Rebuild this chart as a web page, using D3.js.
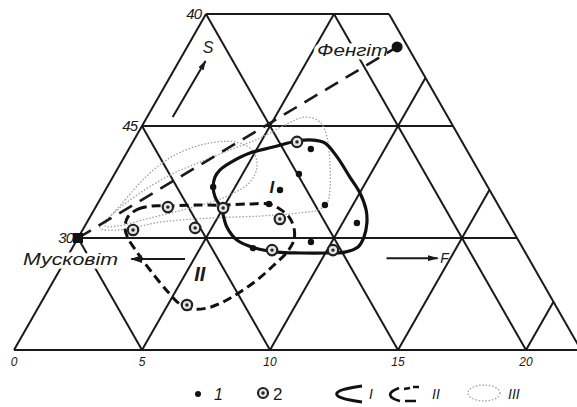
<!DOCTYPE html>
<html>
<head>
<meta charset="utf-8">
<script src="https://cdn.jsdelivr.net/npm/d3@7"></script>
<style>
  body { margin: 0; background: #fff; }
  svg { display: block; }
  text { font-family: "Liberation Sans", Arial, sans-serif; fill: #1a1a1a; }
</style>
</head>
<body>
<svg width="577" height="407"></svg>
<script>
// tick values along the base (F) and along the left edge (S)
const fTicks = [0, 5, 10, 15, 20];
const fTickLabels = ["0", "5", "10", "15", "20"];
const sTicks = [40, 45, 50];
const sTickLabels = ["40", "45", "30"];
const edgeK = 22.15; // right edge of the grid, f + (55 - s)

// samples, [f, s]
const group1 = [[7.11, 46.03], [7.20, 47.14], [6.82, 47.86], [4.14, 47.72], [6.70, 48.48],
                [8.91, 48.53], [10.56, 49.33], [9.19, 50.18], [7.06, 50.45]];
const group2 = [[6.41, 45.71], [2.82, 48.62], [1.97, 49.64], [4.35, 49.55], [5.00, 48.66],
                [7.46, 49.15], [7.85, 50.54], [5.75, 52.99], [10.23, 50.54]];
const muscovite = [0, 50];
const phengite = [8.2, 41.47];

// outlines of the fields
const field1 = [[4.14, 47.72], [3.99, 47.28], [4.03, 46.96], [4.26, 46.65], [4.82, 46.21],
                [5.59, 45.94], [6.39, 45.67], [6.99, 45.63], [7.53, 45.76], [8.31, 46.38],
                [9.26, 47.28], [10.01, 47.99], [10.63, 48.75], [10.95, 49.33], [11.15, 49.96],
                [11.14, 50.40], [10.74, 50.63], [10.06, 50.67], [9.01, 50.67], [8.09, 50.63],
                [7.14, 50.45], [6.25, 50.09], [5.57, 49.51], [4.92, 48.66], [4.44, 48.17]];
const field2 = [[1.48, 49.06], [1.70, 48.71], [2.18, 48.57], [2.84, 48.57], [3.83, 48.53],
                [4.89, 48.53], [5.96, 48.48], [6.70, 48.48], [7.24, 48.71], [7.77, 49.06],
                [8.21, 49.55], [8.48, 50.09], [8.48, 50.63], [8.24, 51.25], [7.93, 51.88],
                [7.54, 52.41], [7.09, 52.86], [6.60, 53.13], [6.04, 53.17], [5.46, 52.95],
                [4.72, 52.41], [3.53, 51.43], [2.62, 50.63], [1.95, 50.00], [1.61, 49.55]];
const field3a = [[0.64, 49.55], [0.86, 48.84], [1.42, 47.99], [2.19, 47.19], [3.07, 46.61],
                 [3.97, 46.07], [4.88, 45.54], [5.56, 44.96], [6.17, 44.60], [6.86, 44.82],
                 [7.47, 45.49], [8.21, 46.74], [8.77, 47.86], [8.95, 48.44], [8.75, 48.75],
                 [8.11, 48.88], [6.62, 49.02], [4.71, 49.11], [2.85, 49.29], [1.46, 49.64]];
const field3b = [[0.79, 49.46], [0.99, 48.30], [1.36, 47.10], [1.94, 46.29], [2.86, 45.80],
                 [3.99, 45.71], [4.83, 46.07], [5.39, 46.79], [5.47, 47.50], [4.83, 48.17],
                 [3.71, 48.66], [2.37, 49.11], [1.29, 49.46]];

// arrows and labels inside the grid, [f, s]
const arrowS = [[1.0, 44.6], [1.03, 42.1]];
const arrowF = [[12.5, 50.9], [14.5, 50.9]];
const arrowM = [[4.65, 50.94], [2.55, 50.94]];

const svg = d3.select("svg");

const x0 = d3.scaleLinear().domain([0, 20]).range([14, 526]);
const y0 = d3.scaleLinear().domain([55, 40]).range([350, 14]);
const skew = 64 / 112;
const px = d => x0(d[0]) + (y0(55) - y0(d[1])) * skew;
const py = d => y0(d[1]);

const defs = svg.append("defs");
function addHead(id, len, wid) {
  defs.append("marker")
      .attr("id", id)
      .attr("viewBox", `0 0 ${len} ${wid}`)
      .attr("refX", len - 1).attr("refY", wid / 2)
      .attr("markerWidth", len).attr("markerHeight", wid)
      .attr("markerUnits", "userSpaceOnUse")
      .attr("orient", "auto")
    .append("path")
      .attr("d", `M0,0 L${len},${wid / 2} L0,${wid} Z`)
      .attr("fill", "#1a1a1a");
}
addHead("headS", 10, 6);
addHead("headF", 11, 6);
addHead("headM", 12, 8);

// grid
const gridSegs = [];
[55, 50, 45, 40].forEach(s => gridSegs.push([[0, s], [edgeK - (55 - s), s]]));
fTicks.forEach(f => gridSegs.push([[f, 55], [f, Math.max(40, 55 - (edgeK - f))]]));
[5, 10, 15, 20, edgeK].forEach(k => {
  const fTop = Math.max(0, k - 15);
  gridSegs.push([[fTop, 55 - (k - fTop)], [k, 55]]);
});

const seg = d3.line().x(px).y(py);
svg.append("g").selectAll("path")
  .data(gridSegs)
  .join("path")
    .attr("d", seg)
    .attr("fill", "none")
    .attr("stroke", "#1a1a1a")
    .attr("stroke-width", 2);

// tick labels
svg.append("g").selectAll("text")
  .data(fTicks)
  .join("text")
    .attr("x", f => px([f, 55]))
    .attr("y", 366)
    .attr("text-anchor", "middle")
    .attr("font-size", 12)
    .attr("font-style", "italic")
    .text((f, i) => fTickLabels[i]);

svg.append("g").selectAll("text")
  .data(sTicks)
  .join("text")
    .attr("x", s => px([0, s]) - 5)
    .attr("y", s => py([0, s]) + 5)
    .attr("text-anchor", "end")
    .attr("font-size", 15)
    .attr("font-style", "italic")
    .attr("letter-spacing", -1)
    .text((s, i) => sTickLabels[i]);

// end-member labels with a white halo that hides the grid beneath
function haloText(x, y, str, len) {
  svg.append("text")
    .attr("x", x).attr("y", y)
    .attr("font-size", 17)
    .attr("font-style", "italic")
    .attr("textLength", len)
    .attr("lengthAdjust", "spacingAndGlyphs")
    .attr("stroke", "#fff").attr("stroke-width", 7)
    .attr("paint-order", "stroke")
    .text(str);
}
haloText(px(muscovite) - 55, py(muscovite) + 27, "Мусковіт", 95);
haloText(px(phengite) - 80, py(phengite) + 9, "Фенгіт", 71);

// field III, dotted grey
const closed = d3.line().x(px).y(py).curve(d3.curveCatmullRomClosed.alpha(0.5));
svg.append("g").selectAll("path")
  .data([field3a, field3b])
  .join("path")
    .attr("d", closed)
    .attr("fill", "none")
    .attr("stroke", "#a0a0a0")
    .attr("stroke-width", 1.3)
    .attr("stroke-dasharray", "1.5,1.8");

// muscovite - phengite tie line
svg.append("path")
  .attr("d", seg([muscovite, phengite]))
  .attr("stroke", "#1a1a1a")
  .attr("stroke-width", 2.6)
  .attr("stroke-dasharray", "15,9");

// field I
svg.append("path")
  .attr("d", closed(field1))
  .attr("fill", "none")
  .attr("stroke", "#111")
  .attr("stroke-width", 3.2);

// field II
svg.append("path")
  .attr("d", closed(field2))
  .attr("fill", "none")
  .attr("stroke", "#111")
  .attr("stroke-width", 3)
  .attr("stroke-dasharray", "9,5");

// arrows
[[arrowS, "headS"], [arrowF, "headF"], [arrowM, "headM"]].forEach(([a, m]) => {
  svg.append("path")
    .attr("d", seg(a))
    .attr("stroke", "#1a1a1a")
    .attr("stroke-width", 2)
    .attr("marker-end", `url(#${m})`);
});
svg.append("text").attr("x", px([0.82, 41.47])).attr("y", py([0.82, 41.47]) + 6)
  .attr("font-size", 16).attr("font-style", "italic").attr("text-anchor", "middle").text("S");
svg.append("text").attr("x", px([14.6, 50.9])).attr("y", py([14.6, 50.9]) + 5)
  .attr("font-size", 14).attr("font-style", "italic").text("F");
svg.append("text").attr("x", px([6.39, 47.63])).attr("y", py([6.39, 47.63]) + 8)
  .attr("font-size", 17).attr("font-style", "italic").attr("font-weight", "bold")
  .attr("text-anchor", "middle").text("I");
svg.append("text").attr("x", px([5.52, 51.52])).attr("y", py([5.52, 51.52]) + 9)
  .attr("font-size", 20).attr("font-style", "italic").attr("font-weight", "bold")
  .attr("text-anchor", "middle").text("II");

// end members
svg.append("rect")
  .attr("x", px(muscovite) - 5).attr("y", py(muscovite) - 5)
  .attr("width", 10).attr("height", 10)
  .attr("fill", "#111");
svg.append("circle")
  .attr("cx", px(phengite)).attr("cy", py(phengite)).attr("r", 5.5)
  .attr("fill", "#111");

// samples
svg.append("g").selectAll("circle")
  .data(group1)
  .join("circle")
    .attr("cx", px).attr("cy", py).attr("r", 3.2)
    .attr("fill", "#111");

const g2 = svg.append("g").selectAll("g")
  .data(group2)
  .join("g")
    .attr("transform", d => `translate(${px(d)},${py(d)})`);
g2.append("circle").attr("r", 5.2).attr("fill", "#e4e4e4").attr("stroke", "#222").attr("stroke-width", 2.2);
g2.append("circle").attr("r", 1.7).attr("fill", "#222");

// legend
const lg = svg.append("g").attr("transform", "translate(0,394)");
lg.append("circle").attr("cx", 198).attr("cy", 0).attr("r", 3).attr("fill", "#111");
lg.append("text").attr("x", 214).attr("y", 6).attr("font-size", 16).attr("font-style", "italic").text("1");
lg.append("circle").attr("cx", 263).attr("cy", -1).attr("r", 5).attr("fill", "#e4e4e4").attr("stroke", "#222").attr("stroke-width", 2.2);
lg.append("circle").attr("cx", 263).attr("cy", -1).attr("r", 1.7).attr("fill", "#222");
lg.append("text").attr("x", 273).attr("y", 6).attr("font-size", 17).text("2");

const glyph = d3.line().curve(d3.curveBasis);
lg.append("path").attr("d", glyph([[362, -8], [342, -5], [334, 0], [342, 5], [362, 8]]))
  .attr("fill", "none").attr("stroke", "#111").attr("stroke-width", 3);
lg.append("text").attr("x", 369).attr("y", 5).attr("font-size", 14).attr("font-style", "italic").text("I");
lg.append("path").attr("d", glyph([[399, -6], [392, -3], [389, 1], [393, 5], [400, 7]]))
  .attr("fill", "none").attr("stroke", "#111").attr("stroke-width", 2.6);
lg.append("path").attr("d", "M404,-5 L410,-6 M413,-7 L419,-7 M405,7 L416,7")
  .attr("fill", "none").attr("stroke", "#111").attr("stroke-width", 2.6);
lg.append("text").attr("x", 432).attr("y", 5).attr("font-size", 14).attr("font-style", "italic").text("II");
lg.append("ellipse").attr("cx", 484).attr("cy", -1).attr("rx", 16).attr("ry", 8)
  .attr("fill", "none").attr("stroke", "#a0a0a0").attr("stroke-width", 1.3).attr("stroke-dasharray", "1.5,1.8");
lg.append("text").attr("x", 508).attr("y", 5).attr("font-size", 14).attr("font-style", "italic").text("III");
</script>
</body>
</html>
